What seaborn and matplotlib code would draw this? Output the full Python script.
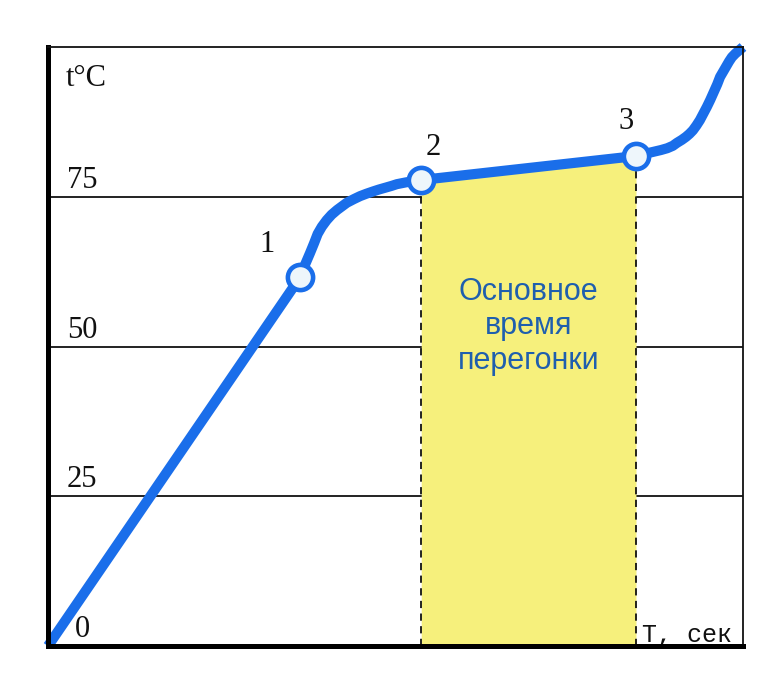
import matplotlib
matplotlib.use("Agg")
import matplotlib.pyplot as plt
import seaborn as sns
import pandas as pd

# ---- data (time in arbitrary units 0..100, temperature in °C) ----
time_s = [0.0, 36.3, 37.0, 37.7, 38.3, 38.8, 39.4, 40.1, 40.8, 41.6, 42.3, 43.0, 44.0,
          44.9, 45.8, 46.8, 47.6, 48.5, 49.4, 50.2, 51.5, 53.7,
          84.6, 86.0, 87.1, 88.2, 89.1, 89.9, 90.5, 91.2, 91.8, 92.3, 92.8, 93.3, 93.8,
          94.3, 94.8, 95.3, 95.8, 96.3, 96.7, 97.2, 97.6, 98.0, 98.4, 98.9, 99.3, 100.0]
temp_c = [0.0, 61.6, 63.7, 65.6, 67.3, 68.8, 70.0, 71.1, 72.0, 72.8, 73.4, 74.0, 74.6,
          75.1, 75.5, 75.9, 76.2, 76.5, 76.8, 77.1, 77.4, 77.8,
          81.8, 82.2, 82.5, 82.8, 83.1, 83.5, 84.0, 84.5, 85.0, 85.5, 86.1, 86.9, 87.8,
          88.9, 90.0, 91.2, 92.5, 93.8, 95.0, 96.0, 96.8, 97.6, 98.3, 98.9, 99.3, 100.0]

point_labels = ["1", "2", "3"]
point_time = [36.3, 53.7, 84.6]
point_temp = [61.6, 77.8, 81.8]
label_time = [31.5, 55.5, 83.2]
label_temp = [67.1, 83.3, 87.5]

level_values = [0, 25, 50, 75]
level_labels = ["0", "25", "50", "75"]
grid_levels = [25, 50, 75]

distill_start = 53.7
distill_end = 84.6
distill_text = "Основное\nвремя\nперегонки"
y_label = "t°C"
x_label = "T, сек"

# ---- styling ----
sns.set_theme(style="white")
plt.rcParams['font.family'] = ['DejaVu Sans']

BLUE = "#1A6EEA"
YELLOW = "#F6F07C"
TEXT_BLUE = "#1F5FAE"

fig = plt.figure(figsize=(7.76, 6.98), dpi=100)
ax = fig.add_axes([48 / 776, 1 - 646 / 698, (743 - 48) / 776, (646 - 47) / 698])
ax.set_xlim(0, 100)
ax.set_ylim(0, 100)

df = pd.DataFrame({"time": time_s, "temp": temp_c})
pts = pd.DataFrame({"time": point_time, "temp": point_temp})

# gridlines
for g in grid_levels:
    ax.axhline(g, color="#111111", lw=1.3, zorder=1)

# yellow area under the curve between points 2 and 3
seg = df[(df["time"] >= distill_start) & (df["time"] <= distill_end)]
ax.fill_between(seg["time"], 0, seg["temp"], color=YELLOW, lw=0, zorder=2)

# dashed verticals
ax.vlines([distill_start, distill_end], 0, [point_temp[1], point_temp[2]],
          colors="#111111", linestyles=(0, (4, 3)), lw=1.3, zorder=3)

# curve
sns.lineplot(data=df, x="time", y="temp", ax=ax, color=BLUE, lw=7.3,
             estimator=None, sort=False, zorder=4, clip_on=False,
             solid_capstyle="butt", solid_joinstyle="round")

# markers
sns.scatterplot(data=pts, x="time", y="temp", ax=ax, s=330, color="#EEF6FB",
                edgecolor=BLUE, linewidth=3.3, zorder=5, clip_on=False)

# texts
serif = ["Liberation Serif", "DejaVu Serif"]
for lab, v in zip(level_labels, level_values):
    ax.text(4.9, v + 1.5, lab, ha="center", va="baseline", fontsize=22,
            family=serif, color="#111111", zorder=6)
ax.text(2.6, 93.5, y_label, ha="left", va="baseline", fontsize=22,
        family=serif, color="#111111", zorder=6)
for lab, tx, ty in zip(point_labels, label_time, label_temp):
    ax.text(tx, ty, lab, ha="center", va="center", fontsize=22,
            family=serif, color="#111111", zorder=6)
ax.text(85.4, 0.6, x_label, ha="left", va="baseline", fontsize=18,
        family=["Liberation Mono", "DejaVu Sans Mono"], color="#111111", zorder=6)
ax.text((distill_start + distill_end) / 2, 53.4, distill_text, ha="center",
        va="center", fontsize=22, linespacing=1.2,
        family=["Liberation Sans", "DejaVu Sans"], color=TEXT_BLUE, zorder=6)

# axes cosmetics
ax.set_xticks([])
ax.set_yticks([])
ax.set_xlabel("")
ax.set_ylabel("")
for side in ["left", "bottom"]:
    ax.spines[side].set_linewidth(3.6)
    ax.spines[side].set_color("black")
for side in ["top", "right"]:
    ax.spines[side].set_linewidth(1.3)
    ax.spines[side].set_color("#111111")
for s in ax.spines.values():
    s.set_zorder(7)
    s.set_visible(True)

fig.savefig("out.png", dpi=100, facecolor="white")
